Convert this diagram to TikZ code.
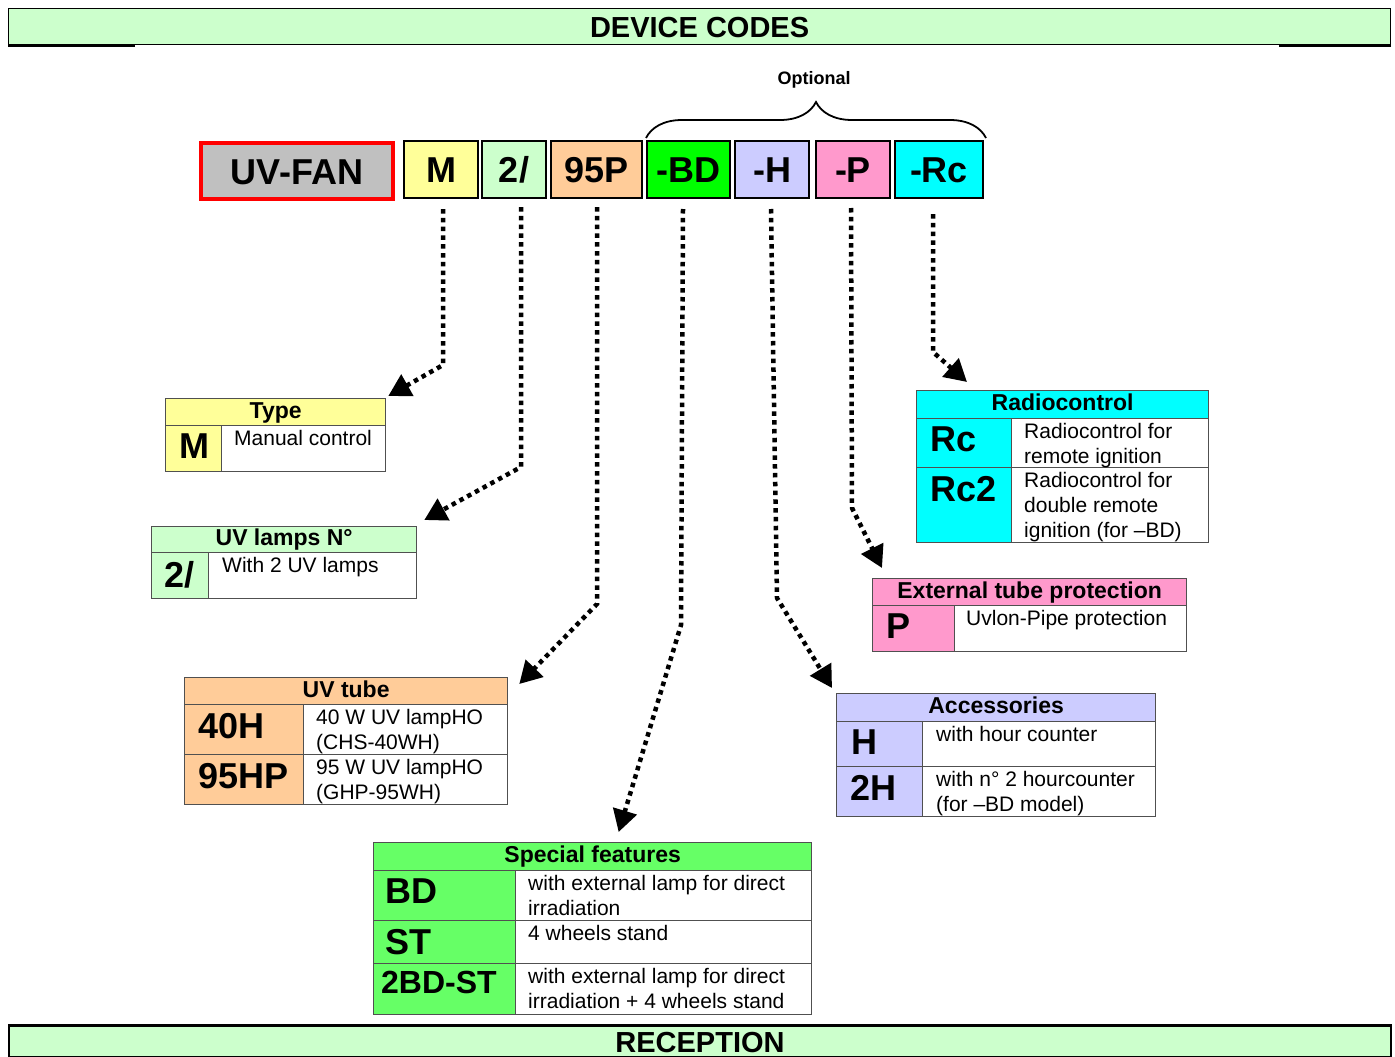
\documentclass[tikz,border=0pt]{standalone}
\usepackage{fontspec}
\setmainfont{Liberation Sans}
\usetikzlibrary{arrows.meta,calc,decorations.pathreplacing}
\definecolor{hdrgreen}{HTML}{CCFFCC}
\definecolor{cyellow}{HTML}{FFFF99}
\definecolor{corange}{HTML}{FFCC99}
\definecolor{cgreen}{HTML}{00FF00}
\definecolor{cgreenb}{HTML}{66FF66}
\definecolor{cviolet}{HTML}{CCCCFF}
\definecolor{cpink}{HTML}{FF99CC}
\definecolor{ccyan}{HTML}{00FFFF}
\definecolor{cgray}{HTML}{C0C0C0}
\definecolor{tline}{HTML}{505050}
\newcommand\fs[2]{\fontsize{#1}{#2}\selectfont}
\begin{document}
\begin{tikzpicture}[x=1pt,y=-1pt,
  codebox/.style={draw=black, line width=2pt, minimum height=57pt, inner sep=0pt, font=\fs{36}{40}\bfseries, text height=26pt, text depth=0pt},
  cell/.style={draw=tline, line width=1.3pt, anchor=north west, inner sep=0pt},
  hdr/.style={cell, font=\fs{23}{26}\bfseries, text height=17pt, text depth=5pt},
  key/.style={anchor=north west, inner sep=0pt, font=\fs{36}{40}\bfseries},
  desc/.style={anchor=north west, inner sep=0pt, align=left, font=\fs{21}{25}\selectfont},
  banner/.style={draw=black, fill=hdrgreen, minimum width=1382pt, anchor=north west, inner sep=0pt, font=\fs{29}{30}\bfseries, text height=21pt, text depth=0pt},
  dotarr/.style={line width=4.5pt, dash pattern=on 4.5pt off 4.3pt, -{Triangle[length=22pt,width=24pt]}},
]
\useasboundingbox (0,0) rectangle (1395,1057);
\fill[white] (0,0) rectangle (1395,1057);

% banners
\node[banner, line width=1.2pt, minimum height=36pt] (devcodes) at (8,8) {DEVICE CODES};
\draw[line width=3pt] (devcodes.south west) -- ++(127,0);
\draw[line width=3pt] (devcodes.south east) -- ++(-112,0);
\node[banner, line width=2pt, minimum height=31pt] (recep) at (8,1025) {RECEPTION};
\draw[line width=3pt] (recep.north west) -- (recep.north east);

% code row
\node[codebox, draw=red, line width=4pt, fill=cgray, minimum width=192pt, minimum height=56pt] (uvfan) at (297,171) {UV-FAN};
\node[codebox, fill=cyellow, minimum width=74pt] (cm) at (441,169.5) {M};
\node[codebox, fill=hdrgreen, minimum width=64pt] (c2) at (514,169.5) {2/};
\node[codebox, fill=corange, minimum width=91pt] (c95) at (596.5,169.5) {95P};
\node[codebox, fill=cgreen, minimum width=83pt] (cbd) at (688.5,169.5) {-BD};
\node[codebox, fill=cviolet, minimum width=74pt] (ch) at (772,169.5) {-H};
\node[codebox, fill=cpink, minimum width=74pt] (cp) at (853,169.5) {-P};
\node[codebox, fill=ccyan, minimum width=88pt] (crc) at (939,169.5) {-Rc};

\node[font=\fs{18}{20}\bfseries, inner sep=0pt] (opt) at (814,80) {Optional};
\draw[line width=1.8pt, decorate, decoration={brace, amplitude=36pt}] ($(cbd.north west)+(0,-2)$) -- ($(crc.north east)+(2,-2)$);

% Type table
\node[hdr, fill=cyellow, minimum width=220pt, minimum height=27pt] (typeh) at (165,398) {Type};
\node[cell, fill=cyellow, minimum width=56pt, minimum height=46pt] (typek1) at (165,425) {};
\node[cell, minimum width=164pt, minimum height=46pt] (typed1) at (221,425) {};
\node[key] (typekt1) at ($(typek1.north west)+(14,9)$) {M};
\node[desc] (typedt1) at ($(typed1.north west)+(13,5)$) {Manual control};

% UV lamps table
\node[hdr, fill=hdrgreen, minimum width=265pt, minimum height=26pt] (lamph) at (151,526) {UV lamps N°};
\node[cell, fill=hdrgreen, minimum width=57pt, minimum height=46pt] (lampk1) at (151,552) {};
\node[cell, minimum width=208pt, minimum height=46pt] (lampd1) at (208,552) {};
\node[key] (lampkt1) at ($(lampk1.north west)+(13,9)$) {2/};
\node[desc] (lampdt1) at ($(lampd1.north west)+(14,5)$) {With 2 UV lamps};

% UV tube table
\node[hdr, fill=corange, minimum width=323pt, minimum height=27pt] (tubeh) at (184,677) {UV tube};
\node[cell, fill=corange, minimum width=119pt, minimum height=50pt] (tubek1) at (184,704) {};
\node[cell, minimum width=204pt, minimum height=50pt] (tubed1) at (303,704) {};
\node[cell, fill=corange, minimum width=119pt, minimum height=50pt] (tubek2) at (184,754) {};
\node[cell, minimum width=204pt, minimum height=50pt] (tubed2) at (303,754) {};
\node[key] (tubekt1) at ($(tubek1.north west)+(14,9)$) {40H};
\node[key] (tubekt2) at ($(tubek2.north west)+(14,9)$) {95HP};
\node[desc] (tubedt1) at ($(tubed1.north west)+(13,5)$) {40 W UV lampHO\\(CHS-40WH)};
\node[desc] (tubedt2) at ($(tubed2.north west)+(13,5)$) {95 W UV lampHO\\(GHP-95WH)};

% Special features table
\node[hdr, fill=cgreenb, minimum width=438pt, minimum height=28pt] (spech) at (373,842) {Special features};
\node[cell, fill=cgreenb, minimum width=142pt, minimum height=50pt] (speck1) at (373,870) {};
\node[cell, minimum width=296pt, minimum height=50pt] (specd1) at (515,870) {};
\node[cell, fill=cgreenb, minimum width=142pt, minimum height=43pt] (speck2) at (373,920) {};
\node[cell, minimum width=296pt, minimum height=43pt] (specd2) at (515,920) {};
\node[cell, fill=cgreenb, minimum width=142pt, minimum height=51pt] (speck3) at (373,963) {};
\node[cell, minimum width=296pt, minimum height=51pt] (specd3) at (515,963) {};
\node[key] (speckt1) at ($(speck1.north west)+(12,9)$) {BD};
\node[key] (speckt2) at ($(speck2.north west)+(12,9)$) {ST};
\node[key, font=\fs{32}{36}\bfseries] (speckt3) at ($(speck3.north west)+(8,8)$) {2BD-ST};
\node[desc] (specdt1) at ($(specd1.north west)+(13,5)$) {with external lamp for direct\\irradiation};
\node[desc] (specdt2) at ($(specd2.north west)+(13,5)$) {4 wheels stand};
\node[desc] (specdt3) at ($(specd3.north west)+(13,5)$) {with external lamp for direct\\irradiation + 4 wheels stand};

% Radiocontrol table
\node[hdr, fill=ccyan, minimum width=292pt, minimum height=28pt] (radh) at (916,390) {Radiocontrol};
\node[cell, fill=ccyan, minimum width=95pt, minimum height=49pt] (radk1) at (916,418) {};
\node[cell, minimum width=197pt, minimum height=49pt] (radd1) at (1011,418) {};
\node[cell, fill=ccyan, minimum width=95pt, minimum height=75pt] (radk2) at (916,467) {};
\node[cell, minimum width=197pt, minimum height=75pt] (radd2) at (1011,467) {};
\node[key] (radkt1) at ($(radk1.north west)+(14,9)$) {Rc};
\node[key] (radkt2) at ($(radk2.north west)+(14,9)$) {Rc2};
\node[desc] (raddt1) at ($(radd1.north west)+(13,5)$) {Radiocontrol for\\remote ignition};
\node[desc] (raddt2) at ($(radd2.north west)+(13,5)$) {Radiocontrol for\\double remote\\ignition (for –BD)};

% External tube protection table
\node[hdr, fill=cpink, minimum width=314pt, minimum height=27pt] (exth) at (872,578) {External tube protection};
\node[cell, fill=cpink, minimum width=82pt, minimum height=46pt] (extk1) at (872,605) {};
\node[cell, minimum width=232pt, minimum height=46pt] (extd1) at (954,605) {};
\node[key] (extkt1) at ($(extk1.north west)+(14,9)$) {P};
\node[desc] (extdt1) at ($(extd1.north west)+(12,5)$) {Uvlon-Pipe protection};

% Accessories table
\node[hdr, fill=cviolet, minimum width=319pt, minimum height=28pt] (acch) at (836,693) {Accessories};
\node[cell, fill=cviolet, minimum width=86pt, minimum height=45pt] (acck1) at (836,721) {};
\node[cell, minimum width=233pt, minimum height=45pt] (accd1) at (922,721) {};
\node[cell, fill=cviolet, minimum width=86pt, minimum height=50pt] (acck2) at (836,766) {};
\node[cell, minimum width=233pt, minimum height=50pt] (accd2) at (922,766) {};
\node[key] (acckt1) at ($(acck1.north west)+(15,9)$) {H};
\node[key] (acckt2) at ($(acck2.north west)+(14,9)$) {2H};
\node[desc] (accdt1) at ($(accd1.north west)+(14,5)$) {with hour counter};
\node[desc] (accdt2) at ($(accd2.north west)+(14,5)$) {with n° 2 hourcounter\\(for –BD model)};

% arrow tips
\coordinate (tipM) at ($(typeh.north east)+(2,-2)$);
\coordinate (tip2) at ($(lamph.north east)+(7,-6)$);
\coordinate (tip95) at ($(tubeh.north east)+(11,7)$);
\coordinate (tipBD) at ($(spech.north)+(26,-10)$);
\coordinate (tipH) at ($(acch.north west)+(-4,-5)$);
\coordinate (tipP) at ($(exth.north west)+(10,-10)$);
\coordinate (tipRc) at ($(radh.north west)+(51,-8)$);

% connectors
\draw[dotarr] ($(cm.south)+(2,10)$) -- (443,365) -- (tipM);
\draw[dotarr] ($(c2.south)+(7,8)$) -- (521,467) -- (tip2);
\draw[dotarr] ($(c95.south)+(0.5,8)$) -- (597,604) -- (tip95);
\draw[dotarr] ($(cbd.south)+(-5.5,10)$) -- (681,625) -- (tipBD);
\draw[dotarr] ($(ch.south)+(-1,10)$) -- (777,598) -- (tipH);
\draw[dotarr] ($(cp.south)+(-2,9)$) -- (852,508) -- (tipP);
\draw[dotarr] ($(crc.south)+(-6,15)$) -- (933,352) -- (tipRc);
\end{tikzpicture}
\end{document}
